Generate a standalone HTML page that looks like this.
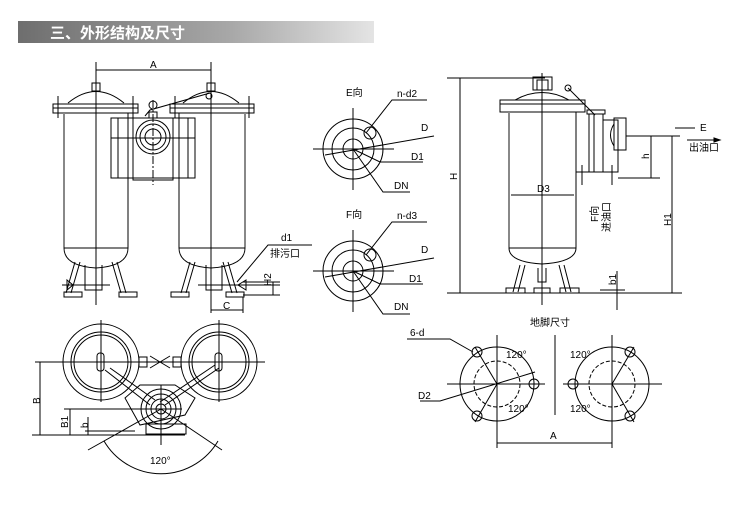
<!DOCTYPE html>
<html><head><meta charset="utf-8"><style>
html,body{margin:0;padding:0;background:#fff;}
svg{display:block;}
text{font-family:"Liberation Sans","Noto Sans CJK SC",sans-serif;font-size:10px;fill:#000;}
</style></head><body>
<svg width="744" height="511" viewBox="0 0 744 511" xmlns="http://www.w3.org/2000/svg">
<defs>
<linearGradient id="g" x1="0" x2="1"><stop offset="0" stop-color="#6e6e6e"/><stop offset="0.6" stop-color="#a8a8a8"/><stop offset="1" stop-color="#e4e4e4"/></linearGradient>
</defs>
<rect x="18" y="21" width="356" height="22" fill="url(#g)"/>
<text x="50" y="38" style="font-size:15px;font-weight:bold;fill:#fff">三、外形结构及尺寸</text>

<g stroke="#000" stroke-width="1" fill="none">
<!-- LEFT TWIN -->
<line x1="96" y1="62" x2="96" y2="305"/><line x1="211" y1="62" x2="211" y2="305"/>
<line x1="96" y1="70" x2="211" y2="70"/>
<!-- left vessel -->
<rect x="53" y="104" width="85" height="9"/><line x1="53" y1="108" x2="138" y2="108"/>
<line x1="58" y1="96" x2="58" y2="118"/><line x1="133" y1="96" x2="133" y2="118"/>
<path d="M68 103 Q96 80 124 103"/><rect x="92" y="83" width="8" height="8"/>
<line x1="64" y1="113" x2="64" y2="248" stroke="#888" stroke-width="2"/><line x1="128" y1="113" x2="128" y2="248"/>
<line x1="64" y1="248" x2="128" y2="248"/><path d="M64 248 Q64 266 96 268 Q128 266 128 248"/>
<path d="M75 262 L66 293 M80 262 L71 293 M117 262 L126 293 M112 262 L121 293"/>
<rect x="64" y="292" width="18" height="5"/><rect x="119" y="292" width="18" height="5"/>
<path d="M85 265 L85 290 L102 290 L102 265"/><line x1="62" y1="285" x2="110" y2="285"/>
<path d="M67 280 L73 285 L67 290 Z"/>
<!-- right vessel -->
<rect x="170" y="104" width="84" height="9"/><line x1="170" y1="108" x2="254" y2="108"/>
<line x1="175" y1="96" x2="175" y2="118"/><line x1="249" y1="96" x2="249" y2="118"/>
<path d="M183 103 Q211 80 239 103"/><rect x="207" y="83" width="8" height="8"/>
<line x1="179" y1="113" x2="179" y2="248"/><line x1="245" y1="113" x2="245" y2="248" stroke="#888" stroke-width="2"/>
<line x1="179" y1="248" x2="245" y2="248"/><path d="M179 248 Q179 266 211 268 Q245 266 245 248"/>
<path d="M190 262 L181 293 M195 262 L186 293 M228 262 L237 293 M223 262 L232 293"/>
<rect x="171" y="292" width="18" height="5"/><rect x="226" y="292" width="18" height="5"/>
<path d="M206 265 L206 290 L222 290 L222 265"/><line x1="198" y1="285" x2="280" y2="285"/>
<path d="M246 280 L238 285 L246 290 Z"/>
<line x1="211" y1="297" x2="211" y2="313"/><line x1="243" y1="297" x2="243" y2="313"/><line x1="211" y1="310" x2="243" y2="310"/>
<line x1="243" y1="282" x2="280" y2="282"/><line x1="243" y1="295" x2="280" y2="295"/><line x1="273" y1="282" x2="273" y2="295"/>
<path d="M237 282 L268 245 L312 245"/>
<!-- center valve -->
<rect x="111" y="118" width="84" height="60"/><rect x="133" y="118" width="40" height="62"/>
<line x1="118" y1="118" x2="118" y2="178"/><line x1="188" y1="118" x2="188" y2="178"/>
<line x1="111" y1="138" x2="195" y2="138"/>
<circle cx="153" cy="137" r="17"/><circle cx="153" cy="137" r="13"/><circle cx="153" cy="137" r="8"/>
<line x1="153" y1="100" x2="153" y2="185" stroke-dasharray="8 2 2 2"/>
<path d="M145 116 L150 110 L210 93"/><circle cx="209" cy="96" r="3"/><circle cx="153" cy="105" r="4"/>
<rect x="149" y="112" width="8" height="6"/>
</g>
<text x="150" y="68">A</text>
<text x="281" y="241">d1</text><text x="270" y="257">排污口</text>
<text x="272" y="293" transform="rotate(-90 268 290)">H2</text>
<text x="223" y="309">C</text>

<!-- E / F views -->
<g stroke="#000" stroke-width="1" fill="none">
<g>
<circle cx="353" cy="149" r="30"/><circle cx="353" cy="149" r="21"/><circle cx="353" cy="149" r="10"/>
<circle cx="370" cy="133" r="6"/>
<line x1="313" y1="149" x2="394" y2="149"/><line x1="353" y1="108" x2="353" y2="190"/>
<path d="M325 155 L434 136 M366 133 L392 100 L427 100 M353 149 L380 162 L423 162 M353 149 L383 192 L410 192"/>
</g>
<g>
<circle cx="353" cy="271" r="30"/><circle cx="353" cy="271" r="21"/><circle cx="353" cy="271" r="10"/>
<circle cx="370" cy="255" r="6"/>
<line x1="313" y1="271" x2="394" y2="271"/><line x1="353" y1="230" x2="353" y2="312"/>
<path d="M325 277 L434 258 M366 255 L392 222 L427 222 M353 271 L380 284 L423 284 M353 271 L383 314 L410 314"/>
</g>
</g>
<text x="346" y="96">E向</text><text x="397" y="97">n-d2</text><text x="421" y="131">D</text><text x="411" y="160">D1</text><text x="394" y="189">DN</text>
<text x="346" y="218">F向</text><text x="397" y="219">n-d3</text><text x="421" y="253">D</text><text x="409" y="282">D1</text><text x="394" y="310">DN</text>

<!-- right single vessel -->
<g stroke="#000" stroke-width="1" fill="none">
<line x1="447" y1="78" x2="545" y2="78"/><line x1="460" y1="78" x2="460" y2="293"/>
<line x1="447" y1="293" x2="682" y2="293"/>
<line x1="542" y1="73" x2="542" y2="305"/>
<rect x="533" y="77" width="19" height="13"/><rect x="537" y="80" width="11" height="10"/>
<path d="M515 100 Q542 85 569 100"/>
<rect x="500" y="100" width="85" height="12"/><line x1="500" y1="104" x2="585" y2="104"/>
<line x1="509" y1="112" x2="509" y2="248" stroke="#888" stroke-width="2"/><line x1="576" y1="112" x2="576" y2="248"/>
<line x1="509" y1="248" x2="576" y2="248"/><path d="M509 248 Q509 262 542 264 Q576 262 576 248"/>
<path d="M520 265 L513 292 M525 265 L518 292 M564 265 L571 292 M559 265 L566 292"/>
<rect x="506" y="288" width="19" height="5"/><rect x="534" y="288" width="16" height="5"/><rect x="560" y="288" width="19" height="5"/>
<path d="M538 268 L538 282 L546 282 L546 268"/>
<line x1="511" y1="195" x2="574" y2="195"/>
<path d="M568 88 L595 115"/><circle cx="568" cy="88" r="3"/>
<rect x="587" y="110" width="18" height="4"/>
<rect x="589" y="114" width="14" height="58"/><line x1="594" y1="114" x2="594" y2="172"/>
<rect x="603" y="120" width="15" height="52"/><rect x="614" y="118" width="12" height="32"/>
<path d="M614 124 Q607 135 614 146"/>
<line x1="576" y1="172" x2="618" y2="172"/><line x1="582" y1="165" x2="582" y2="185"/><line x1="612" y1="165" x2="612" y2="185"/>
<line x1="618" y1="178" x2="660" y2="178"/>
<line x1="626" y1="136" x2="680" y2="136"/><line x1="651" y1="136" x2="651" y2="178"/>
<line x1="672" y1="136" x2="672" y2="293"/>
<line x1="675" y1="128" x2="695" y2="128"/>
<line x1="687" y1="140" x2="720" y2="140"/><path d="M720 140 L714 138 L714 142Z" fill="#000"/>
<line x1="617" y1="271" x2="617" y2="310"/><line x1="600" y1="290" x2="625" y2="290"/>
</g>
<text x="537" y="192">D3</text>
<text x="700" y="131">E</text><text x="689" y="151">出油口</text>
<text x="454" y="183" transform="rotate(-90 454 180)">H</text>
<text x="646" y="162" transform="rotate(-90 646 159)">h</text>
<text x="667" y="230" transform="rotate(-90 667 226)">H1</text>
<text x="612" y="289" transform="rotate(-90 612 285)">b1</text>
<text x="590" y="222" transform="rotate(-90 594 218)">F向</text>
<text x="602" y="232" transform="rotate(-90 606 228)">进油口</text>

<!-- bottom left top view -->
<g stroke="#000" stroke-width="1" fill="none">
<circle cx="101" cy="362" r="38"/><circle cx="101" cy="362" r="30"/><circle cx="101" cy="362" r="27"/>
<circle cx="219" cy="362" r="38"/><circle cx="219" cy="362" r="30"/><circle cx="219" cy="362" r="27"/>
<rect x="97" y="353" width="7" height="18" rx="3"/><rect x="215" y="353" width="7" height="18" rx="3"/>
<line x1="35" y1="362" x2="265" y2="362"/>
<line x1="101" y1="320" x2="101" y2="402"/><line x1="219" y1="320" x2="219" y2="402"/>
<rect x="139" y="357" width="8" height="10"/><rect x="173" y="357" width="8" height="10"/>
<path d="M150 356 L170 368 M150 368 L170 356"/>
<circle cx="161" cy="409" r="20"/><circle cx="161" cy="409" r="15"/><circle cx="161" cy="409" r="10"/><circle cx="161" cy="409" r="5"/>
<path d="M105 370 L150 405 M110 368 L155 400 M219 368 L165 405 M215 365 L160 402"/>
<path d="M125 398 L140 385 L175 385 L195 398 L185 415 L140 425 Z"/>
<line x1="64" y1="409" x2="182" y2="409"/>
<rect x="146" y="424" width="40" height="10"/>
<line x1="32" y1="435" x2="185" y2="435"/><line x1="85" y1="431" x2="135" y2="431"/>
<line x1="40" y1="362" x2="40" y2="435"/><line x1="70" y1="409" x2="70" y2="435"/><line x1="88" y1="417" x2="88" y2="435"/>
<line x1="161" y1="385" x2="161" y2="445"/>
<path d="M161 409 L88 450 M161 409 L222 450"/>
<path d="M104 441 A66 66 0 0 0 218 441"/>
</g>
<text x="30" y="402" transform="rotate(-90 36 398)">B</text>
<text x="60" y="428" transform="rotate(-90 64 424)">B1</text>
<text x="80" y="428" transform="rotate(-90 84 424)">b</text>
<text x="150" y="464">120°</text>

<!-- foot print -->
<text x="530" y="326">地脚尺寸</text>
<g stroke="#000" stroke-width="1" fill="none">
<circle cx="497" cy="384" r="37"/><circle cx="497" cy="384" r="23" stroke-dasharray="4 2"/>
<circle cx="612" cy="384" r="37"/><circle cx="612" cy="384" r="23" stroke-dasharray="4 2"/>
<line x1="447" y1="384" x2="545" y2="384"/><line x1="563" y1="384" x2="662" y2="384"/>
<line x1="497" y1="335" x2="497" y2="448"/><line x1="612" y1="335" x2="612" y2="448"/>
<line x1="555" y1="335" x2="555" y2="415"/>
<circle cx="477" cy="352" r="5"/><circle cx="477" cy="416" r="5"/><circle cx="534" cy="384" r="5"/>
<circle cx="630" cy="352" r="5"/><circle cx="630" cy="416" r="5"/><circle cx="573" cy="384" r="5"/>
<path d="M497 384 L475 347 M497 384 L475 422 M612 384 L634 347 M612 384 L634 422"/>
<path d="M407 339 L450 339 L473 352 M420 401 L440 401 L535 372"/>
<line x1="497" y1="443" x2="612" y2="443"/>
</g>
<text x="410" y="336">6-d</text><text x="418" y="399">D2</text>
<text x="506" y="358">120°</text><text x="508" y="412">120°</text>
<text x="570" y="358">120°</text><text x="570" y="412">120°</text>
<text x="550" y="439">A</text>
</svg>
</body></html>
